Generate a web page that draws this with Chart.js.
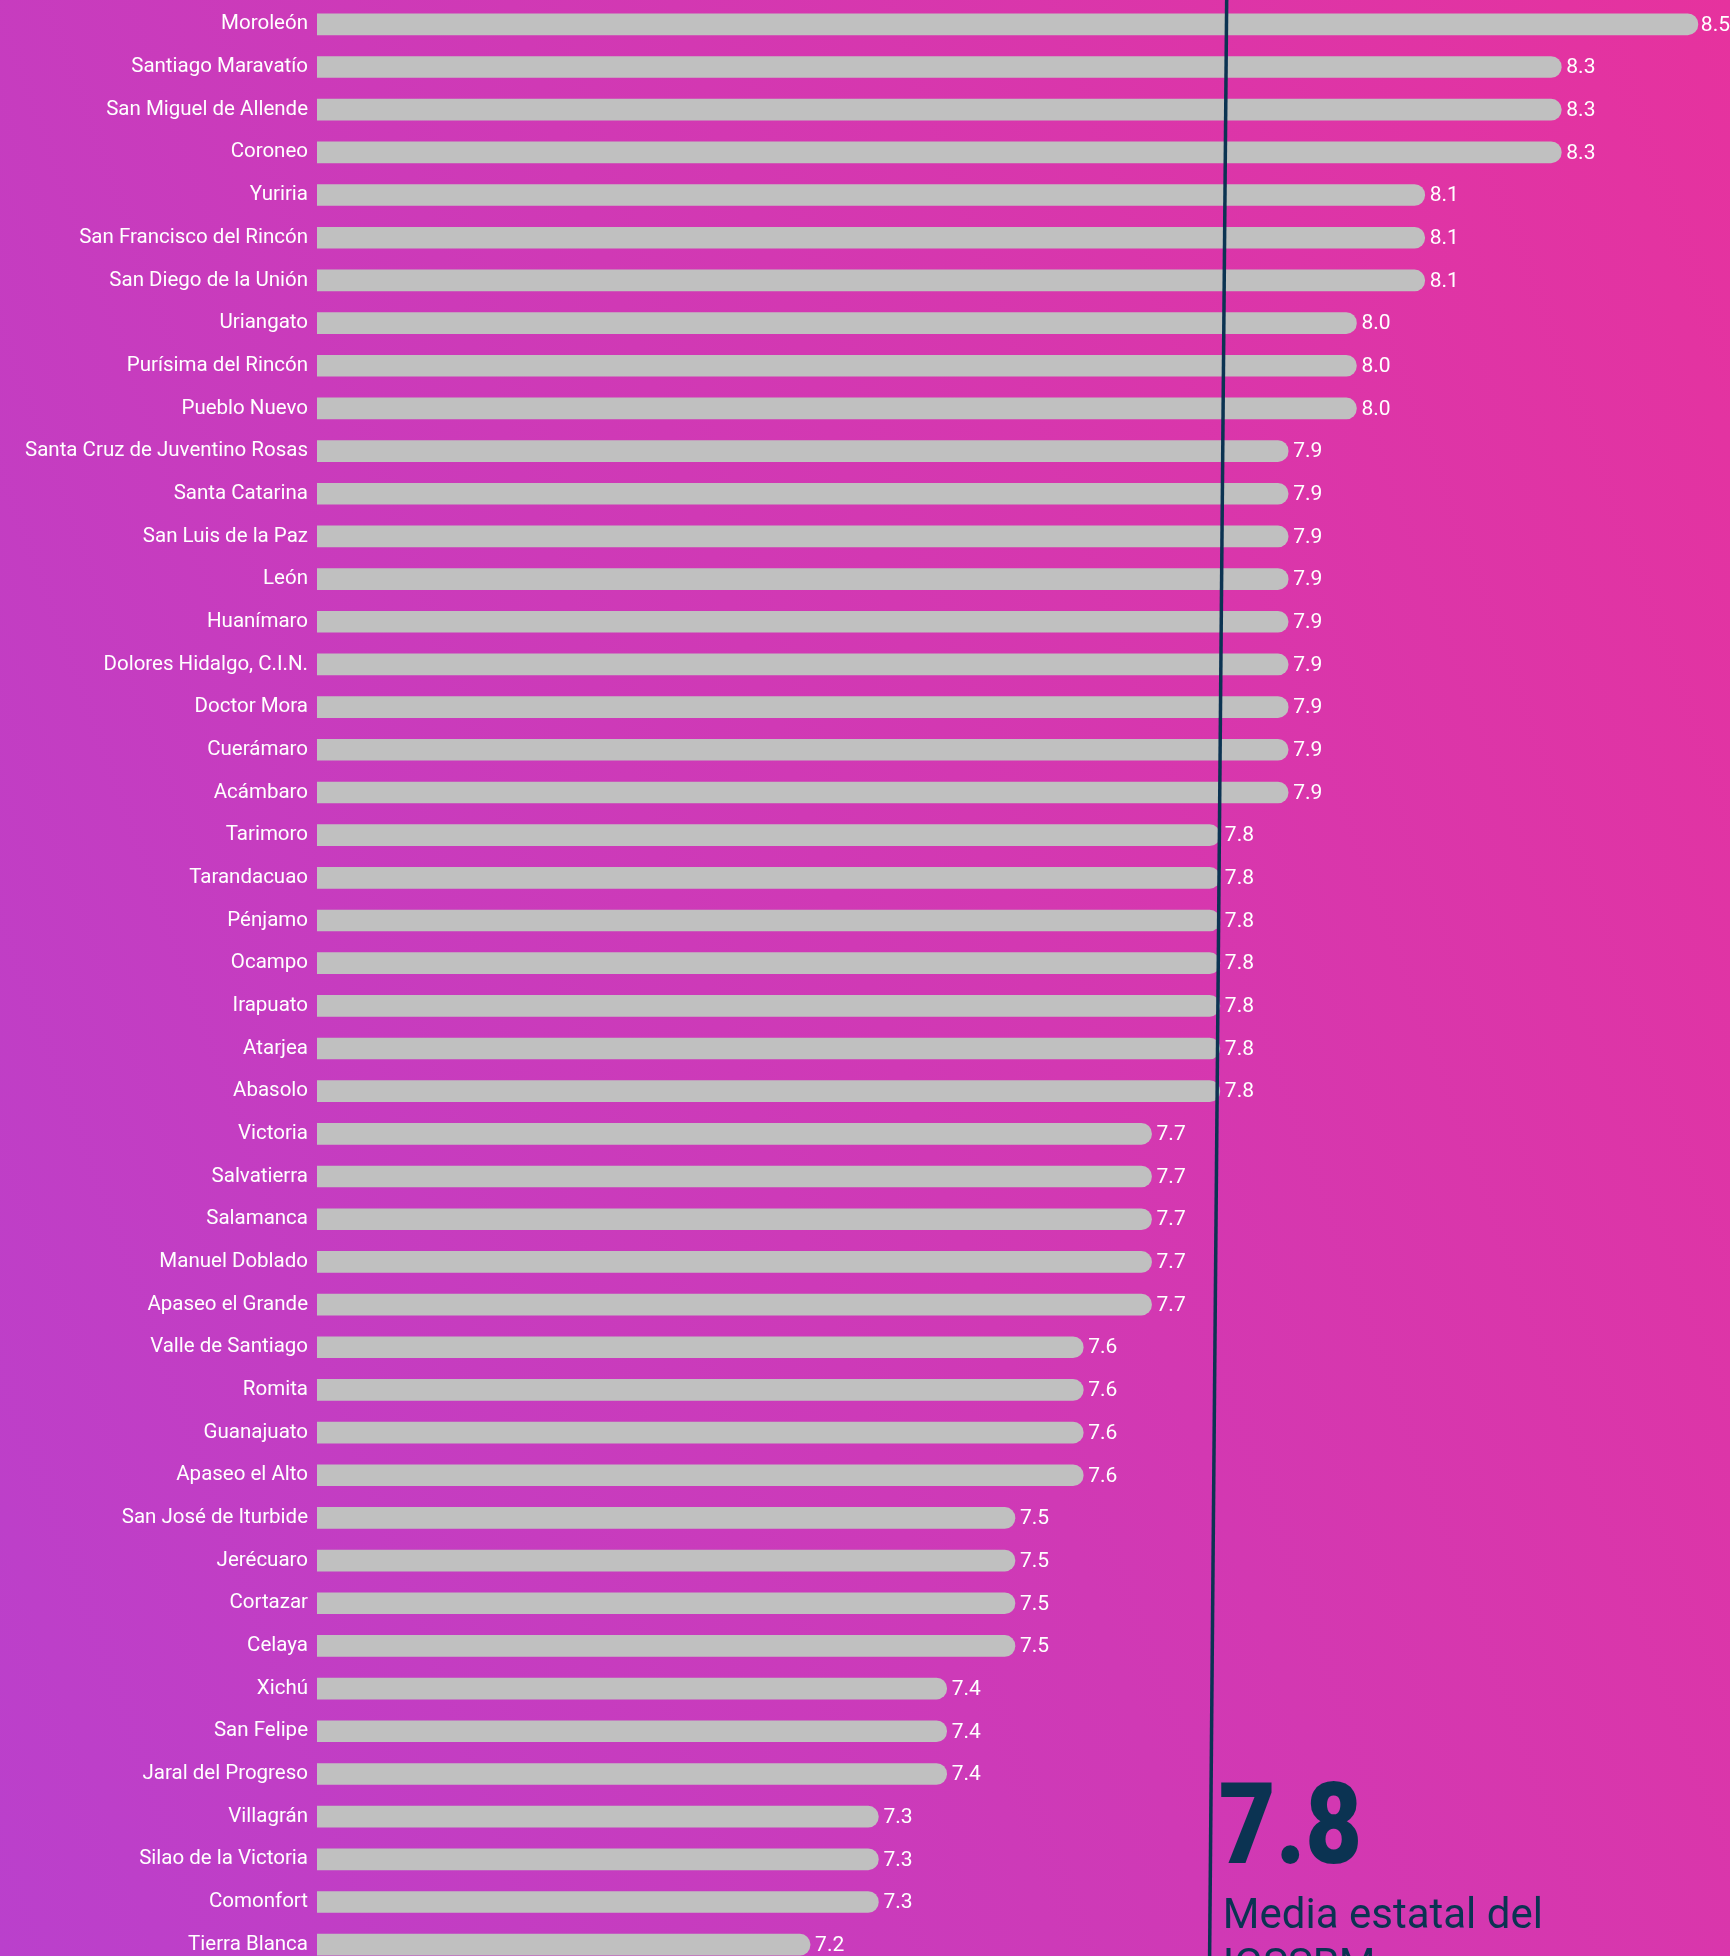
<!DOCTYPE html>
<html>
<head>
<meta charset="utf-8">
<script src="https://cdn.jsdelivr.net/npm/chart.js@4.4.1/dist/chart.umd.min.js"></script>
<style>
  html, body { margin: 0; padding: 0; width: 1730px; height: 1956px; overflow: hidden; }
  body { background: linear-gradient(70deg, rgb(186,64,204) 0%, rgb(230,50,158) 100%); }
  #wrap { position: absolute; left: 0; top: 0; width: 1730px; height: 1967px; }
</style>
</head>
<body>
<div id="wrap"><canvas id="c" width="1730" height="1967"></canvas></div>
<script>
// ---- Data ----
const municipios = [
  "Moroleón", "Santiago Maravatío", "San Miguel de Allende", "Coroneo", "Yuriria",
  "San Francisco del Rincón", "San Diego de la Unión", "Uriangato", "Purísima del Rincón",
  "Pueblo Nuevo", "Santa Cruz de Juventino Rosas", "Santa Catarina", "San Luis de la Paz",
  "León", "Huanímaro", "Dolores Hidalgo, C.I.N.", "Doctor Mora", "Cuerámaro", "Acámbaro",
  "Tarimoro", "Tarandacuao", "Pénjamo", "Ocampo", "Irapuato", "Atarjea", "Abasolo",
  "Victoria", "Salvatierra", "Salamanca", "Manuel Doblado", "Apaseo el Grande",
  "Valle de Santiago", "Romita", "Guanajuato", "Apaseo el Alto", "San José de Iturbide",
  "Jerécuaro", "Cortazar", "Celaya", "Xichú", "San Felipe", "Jaral del Progreso",
  "Villagrán", "Silao de la Victoria", "Comonfort", "Tierra Blanca"
];
const valores = [
  8.5, 8.3, 8.3, 8.3, 8.1,
  8.1, 8.1, 8.0, 8.0,
  8.0, 7.9, 7.9, 7.9,
  7.9, 7.9, 7.9, 7.9, 7.9, 7.9,
  7.8, 7.8, 7.8, 7.8, 7.8, 7.8, 7.8,
  7.7, 7.7, 7.7, 7.7, 7.7,
  7.6, 7.6, 7.6, 7.6, 7.5,
  7.5, 7.5, 7.5, 7.4, 7.4, 7.4,
  7.3, 7.3, 7.3, 7.2
];
const mediaEstatal = 7.8;
// the reference line is drawn slightly tilted: value at the top and at the bottom
const mediaLineaArriba = 7.81;
const mediaLineaAbajo = 7.785;
const mediaTexto = ["Media estatal del", "IGSSRM"];
const ejeMin = 6.478;
const ejeMax = 8.547;

const NAVY = "#0b3352";

const valueLabels = {
  id: "valueLabels",
  afterDatasetsDraw(chart) {
    const ctx = chart.ctx;
    const meta = chart.getDatasetMeta(0);
    ctx.save();
    ctx.font = "21px Roboto";
    ctx.fillStyle = "#ffffff";
    ctx.textBaseline = "middle";
    ctx.textAlign = "left";
    meta.data.forEach((bar, i) => {
      const t = valores[i].toFixed(1);
      const w = ctx.measureText(t).width;
      let x = bar.x + 5;
      if (x + w > chart.width) x = chart.width - w;
      ctx.fillText(t, x, bar.y + 1);
    });
    ctx.restore();
  }
};

const meanLine = {
  id: "meanLine",
  afterDraw(chart) {
    const ctx = chart.ctx;
    const xs = chart.scales.x;
    const xTop = xs.getPixelForValue(mediaLineaArriba);
    const xBot = xs.getPixelForValue(mediaLineaAbajo);
    ctx.save();
    ctx.strokeStyle = NAVY;
    ctx.lineWidth = 3.5;
    ctx.beginPath();
    ctx.moveTo(xTop, 0);
    ctx.lineTo(xBot, 1956);
    ctx.stroke();

    const xText = xs.getPixelForValue(mediaEstatal) + 3;
    ctx.fillStyle = NAVY;
    ctx.textAlign = "left";
    ctx.textBaseline = "alphabetic";
    ctx.save();
    ctx.translate(xText - 4, 1863);
    ctx.scale(0.86, 1);
    ctx.font = "900 114px Roboto";
    ctx.fillText(mediaEstatal.toFixed(1), 0, 0);
    ctx.restore();
    ctx.font = "42px Roboto";
    ctx.fillText(mediaTexto[0], xText, 1928);
    ctx.fillText(mediaTexto[1], xText, 1978);
    ctx.restore();
  }
};

new Chart(document.getElementById("c"), {
  type: "bar",
  data: {
    labels: municipios,
    datasets: [{
      data: valores,
      backgroundColor: "#c0c0c0",
      barThickness: 21,
      borderRadius: 10.5,
      borderSkipped: false
    }]
  },
  options: {
    indexAxis: "y",
    responsive: false,
    animation: false,
    devicePixelRatio: 1,
    layout: { padding: { top: 3, bottom: 1, left: 0, right: 0 } },
    plugins: { legend: { display: false }, tooltip: { enabled: false } },
    scales: {
      x: {
        display: false,
        min: ejeMin,
        max: ejeMax
      },
      y: {
        grid: { display: false, drawTicks: false },
        border: { display: false },
        ticks: {
          color: "#ffffff",
          font: { family: "Roboto", size: 20.5 },
          padding: 9,
          autoSkip: false
        },
        afterFit(scale) {
          scale.width = 317;
          scale.paddingTop = 0;
          scale.paddingBottom = 0;
        }
      }
    }
  },
  plugins: [valueLabels, meanLine]
});
</script>
</body>
</html>
